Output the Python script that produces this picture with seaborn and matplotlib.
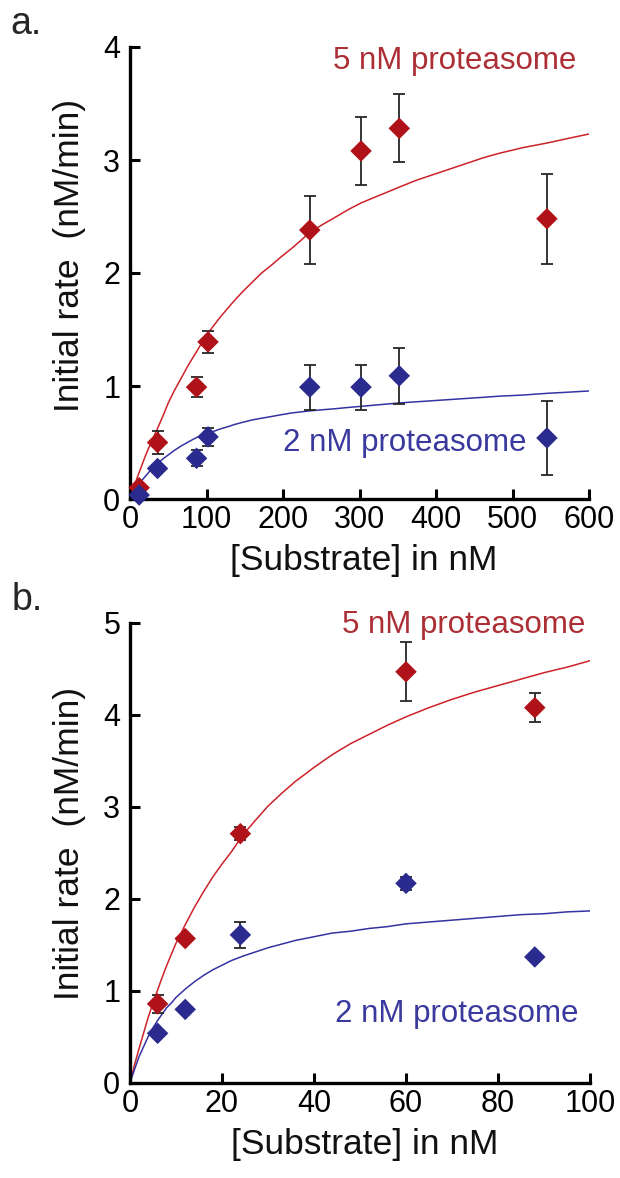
import matplotlib
matplotlib.use("Agg")
import matplotlib.pyplot as plt
import seaborn as sns
import pandas as pd

# ---------------- data ----------------
# Panel a: measured points
a_x = [12, 36, 87, 102, 235, 302, 352, 545]
a_red_y = [0.10, 0.50, 0.99, 1.39, 2.38, 3.08, 3.28, 2.48]
a_red_err = [0.00, 0.10, 0.09, 0.10, 0.30, 0.30, 0.30, 0.40]
a_blue_y = [0.035, 0.27, 0.36, 0.55, 0.99, 0.99, 1.09, 0.54]
a_blue_err = [0.00, 0.00, 0.07, 0.08, 0.20, 0.20, 0.25, 0.33]

# Panel a: fitted curves
a_curve_x = [0, 5, 10, 15, 20, 25, 31, 37, 44, 50, 58, 67, 75, 83, 92, 100,
             110, 118, 128, 137, 148, 160, 172, 185, 197, 210, 222, 235, 252,
             270, 285, 302, 327, 352, 374, 396, 418, 440, 462, 483, 514, 545,
             572, 600]
a_red_curve = [0, 0.10, 0.20, 0.29, 0.38, 0.46, 0.55, 0.64, 0.75, 0.85, 0.96,
               1.07, 1.17, 1.26, 1.36, 1.45, 1.54, 1.61, 1.69, 1.76, 1.84,
               1.92, 2.00, 2.07, 2.14, 2.21, 2.28, 2.36, 2.43, 2.50, 2.56,
               2.62, 2.69, 2.76, 2.82, 2.87, 2.92, 2.97, 3.02, 3.06, 3.11,
               3.15, 3.19, 3.23]
a_blue_curve = [0, 0.06, 0.11, 0.16, 0.20, 0.24, 0.28, 0.32, 0.36, 0.39, 0.43,
                0.47, 0.50, 0.53, 0.56, 0.58, 0.60, 0.62, 0.64, 0.66, 0.68,
                0.70, 0.715, 0.73, 0.745, 0.76, 0.77, 0.78, 0.79, 0.80, 0.81,
                0.82, 0.835, 0.85, 0.86, 0.87, 0.88, 0.89, 0.90, 0.91, 0.92,
                0.935, 0.945, 0.956]

# Panel b: measured points
b_x = [6, 12, 24, 60, 88]
b_red_y = [0.86, 1.57, 2.71, 4.47, 4.08]
b_red_err = [0.10, 0.03, 0.07, 0.32, 0.16]
b_blue_y = [0.54, 0.80, 1.61, 2.17, 1.37]
b_blue_err = [0.00, 0.00, 0.14, 0.07, 0.00]

# Panel b: fitted curves
b_curve_x = [0, 1, 2, 3, 4, 5, 6, 7, 8, 9, 10, 12, 14, 16, 18, 20, 22, 24.6,
             27, 30, 33, 36, 40, 44, 48, 52, 56, 60, 65, 70, 75, 80, 85, 90,
             95, 100]
b_red_curve = [0, 0.20, 0.38, 0.55, 0.72, 0.87, 1.01, 1.15, 1.28, 1.40, 1.52,
               1.72, 1.91, 2.08, 2.24, 2.38, 2.51, 2.70, 2.84, 3.01, 3.15,
               3.28, 3.43, 3.57, 3.69, 3.79, 3.89, 3.98, 4.08, 4.17, 4.25,
               4.32, 4.39, 4.46, 4.52, 4.59]
b_blue_curve = [0, 0.15, 0.29, 0.40, 0.51, 0.60, 0.68, 0.75, 0.82, 0.87, 0.93,
                1.02, 1.10, 1.17, 1.23, 1.28, 1.33, 1.38, 1.42, 1.47, 1.51,
                1.55, 1.59, 1.63, 1.65, 1.68, 1.70, 1.73, 1.75, 1.77, 1.79,
                1.81, 1.83, 1.84, 1.86, 1.87]

a_xticks = [0, 100, 200, 300, 400, 500, 600]
a_yticks = [0, 1, 2, 3, 4]
b_xticks = [0, 20, 40, 60, 80, 100]
b_yticks = [0, 1, 2, 3, 4, 5]

series_labels = ["5 nM proteasome", "2 nM proteasome"]
panel_labels = ["a.", "b."]
xlabel = "[Substrate] in nM"
ylabel = "Initial rate  (nM/min)"

# ---------------- style ----------------
sns.set_theme(style="white")
plt.rcParams["font.family"] = ["Liberation Sans", "DejaVu Sans"]

RED_MK = "#B01219"
RED_LN = "#CC2229"
RED_TX = "#AD2F36"
BLUE_MK = "#2B2A8E"
BLUE_LN = "#3533A3"
BLUE_TX = "#3A399E"

fig = plt.figure(figsize=(6.2, 11.78), dpi=100)
ax_a = fig.add_axes([130 / 620, 1 - 499 / 1178, 459 / 620, 452 / 1178])
ax_b = fig.add_axes([130 / 620, 1 - 1083 / 1178, 460 / 620, 460 / 1178])


def draw_panel(ax, px, ry, rerr, by, berr, cx, rc, bc, xlim, ylim, xticks, yticks,
               red_lab_pos, blue_lab_pos):
    dfc = pd.DataFrame({"x": cx, "red": rc, "blue": bc})
    sns.lineplot(data=dfc, x="x", y="red", ax=ax, color=RED_LN, lw=1.1, zorder=2)
    sns.lineplot(data=dfc, x="x", y="blue", ax=ax, color=BLUE_LN, lw=1.1, zorder=2)
    for y, e in ((ry, rerr), (by, berr)):
        xs = [x for x, ee in zip(px, e) if ee > 0]
        ys = [yy for yy, ee in zip(y, e) if ee > 0]
        es = [ee for ee in e if ee > 0]
        ax.errorbar(xs, ys, yerr=es, fmt="none", ecolor="#262626", elinewidth=1.3,
                    capsize=4, capthick=1.3, zorder=3)
    dfp = pd.DataFrame({"x": px, "red": ry, "blue": by})
    sns.scatterplot(data=dfp, x="x", y="red", ax=ax, marker="D", s=120,
                    color=RED_MK, edgecolor="none", zorder=4, clip_on=False)
    sns.scatterplot(data=dfp, x="x", y="blue", ax=ax, marker="D", s=120,
                    color=BLUE_MK, edgecolor="none", zorder=4, clip_on=False)
    ax.set_xlim(*xlim)
    ax.set_ylim(*ylim)
    ax.set_xticks(xticks)
    ax.set_yticks(yticks)
    ax.set_xticklabels([str(t) for t in xticks])
    ax.set_yticklabels([str(t) for t in yticks])
    for s in ("top", "right"):
        ax.spines[s].set_visible(False)
    for s in ("left", "bottom"):
        ax.spines[s].set_visible(True)
        ax.spines[s].set_linewidth(2.4)
        ax.spines[s].set_color("black")
    ax.tick_params(axis="both", direction="in", length=7.5, width=2.2,
                   colors="black", labelsize=22, left=True, bottom=True)
    ax.tick_params(axis="x", pad=4)
    ax.tick_params(axis="y", pad=7)
    ax.set_xlabel(xlabel, fontsize=25.5, color="#111111")
    ax.set_ylabel(ylabel, fontsize=25.5, color="#111111")
    ax.grid(False)
    ax.set_facecolor("white")
    ax.text(red_lab_pos[0], red_lab_pos[1], series_labels[0], color=RED_TX,
            fontsize=22.5, ha="right", va="center")
    ax.text(blue_lab_pos[0], blue_lab_pos[1], series_labels[1], color=BLUE_TX,
            fontsize=22.5, ha="right", va="center")


draw_panel(ax_a, a_x, a_red_y, a_red_err, a_blue_y, a_blue_err,
           a_curve_x, a_red_curve, a_blue_curve, (0, 600), (0, 4),
           a_xticks, a_yticks, (584, 3.88), (518, 0.50))
draw_panel(ax_b, b_x, b_red_y, b_red_err, b_blue_y, b_blue_err,
           b_curve_x, b_red_curve, b_blue_curve, (0, 100), (0, 5),
           b_xticks, b_yticks, (99, 4.98), (97.5, 0.75))

ax_a.yaxis.set_label_coords(-0.095, 0.539)
ax_b.yaxis.set_label_coords(-0.095, 0.52)
ax_a.xaxis.set_label_coords(0.51, -0.100)
ax_b.xaxis.set_label_coords(0.51, -0.098)

fig.text(10 / 620, 1 - 6 / 1178, panel_labels[0], fontsize=27, ha="left", va="top")
fig.text(12 / 620, 1 - 582 / 1178, panel_labels[1], fontsize=27, ha="left", va="top")

fig.savefig("out.png", dpi=100, facecolor="white")
